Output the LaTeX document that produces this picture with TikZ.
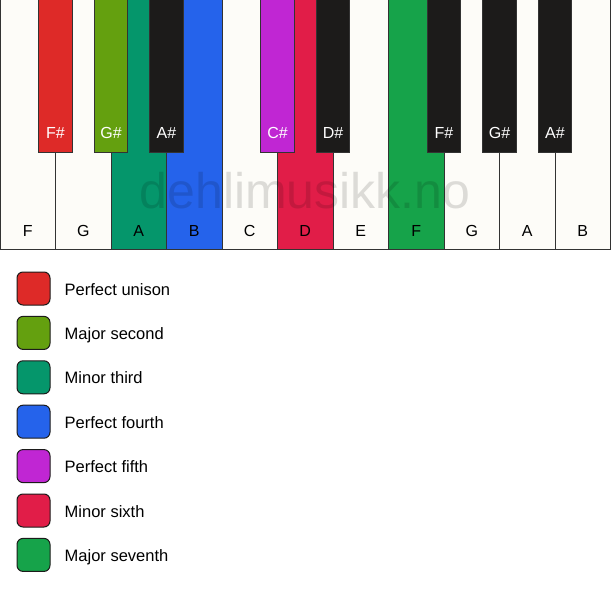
\documentclass[tikz,border=0pt]{standalone}
\usepackage{fontspec}
\setmainfont{Liberation Sans}
\usetikzlibrary{positioning}
\definecolor{keywhite}{HTML}{FDFCF8}
\definecolor{keyblack}{HTML}{1C1B1A}
\definecolor{keyline}{HTML}{333333}
\definecolor{unison}{HTML}{DE2A28}
\definecolor{second}{HTML}{64A00F}
\definecolor{third}{HTML}{05966B}
\definecolor{fourth}{HTML}{2563EB}
\definecolor{fifth}{HTML}{C026D3}
\definecolor{sixth}{HTML}{E11D48}
\definecolor{seventh}{HTML}{16A34A}
\tikzset{
  whitekey/.style={draw=keyline, line width=1pt, inner sep=0pt, outer sep=0pt,
    minimum width=55.5pt, minimum height=249pt, anchor=north west},
  blackkey/.style={draw=keyline, line width=1pt, inner sep=0pt, outer sep=0pt,
    minimum width=33.5pt, minimum height=152pt, anchor=north},
  keylabel/.style={anchor=base, inner sep=0pt, font=\fontsize{16}{19}\selectfont},
  legendbox/.style={draw=keyblack, line width=1pt, rounded corners=6pt,
    minimum size=33pt, inner sep=0pt},
  legendtext/.style={inner sep=0pt, text height=12pt, text depth=0pt,
    yshift=-0.5pt, font=\fontsize{16.5}{20}\selectfont}
}
\begin{document}
\begin{tikzpicture}[x=1pt,y=-1pt]
    \useasboundingbox[fill=white] (0,0) rectangle (611,594);
    % white keys
    \foreach \n/\c [count=\i from 0] in {F/keywhite,G/keywhite,A/third,B/fourth,C/keywhite,D/sixth,E/keywhite,F/seventh,G/keywhite,A/keywhite,B/keywhite} {
        \node[whitekey, fill=\c] (w\i) at (\i*55.5,0) {};
        \node[keylabel] (wl\i) at (\i*55.5+27.75,236) {\n};
    }
    % watermark
    \node[anchor=base, inner sep=0pt, text=black, opacity=.13, font=\fontsize{50}{60}\selectfont] (mark) at (305,208) {dehlimusikk.no};
    % black keys
    \foreach \n/\c/\x [count=\i] in {F\#/unison/1,G\#/second/2,A\#/keyblack/3,C\#/fifth/5,D\#/keyblack/6,F\#/keyblack/8,G\#/keyblack/9,A\#/keyblack/10} {
        \node[blackkey, fill=\c] (b\i) at (\x*55.5,0) {};
        \node[keylabel, text=white] (bl\i) at (\x*55.5,139) {\n};
    }
    % legend
    \foreach \t/\c [count=\i from 0] in {Perfect unison/unison,Major second/second,Minor third/third,Perfect fourth/fourth,Perfect fifth/fifth,Minor sixth/sixth,Major seventh/seventh} {
        \node[legendbox, fill=\c] (lb\i) at (33.5,288.5+\i*44.4) {};
        \node[legendtext, right=14pt of lb\i] (lt\i) {\t};
    }
\end{tikzpicture}
\end{document}
